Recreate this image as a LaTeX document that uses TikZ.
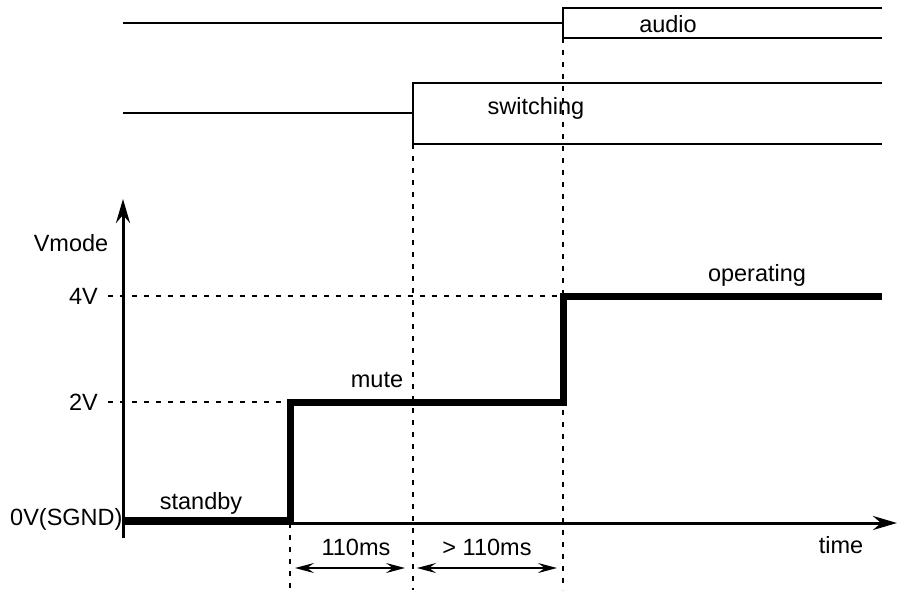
\documentclass[tikz,border=0pt]{standalone}
\usepackage{fontspec}
\setmainfont{Liberation Sans}
\usetikzlibrary{arrows.meta}
\begin{document}
\begin{tikzpicture}[x=1pt,y=-1pt,
  lbl/.style={inner sep=0pt,font=\fontsize{23.5}{28}\selectfont},
  thin/.style={line width=1.6pt},
  guide/.style={line width=1.4pt,dash pattern=on 5pt off 7pt},
  axis/.style={line width=3pt,-{Stealth[length=24pt,width=14pt,inset=8pt]}},
  sig/.style={line width=7pt,line cap=butt,line join=miter},
  dim/.style={line width=1.7pt,{Stealth[length=19pt,width=10pt,inset=7pt]}-{Stealth[length=19pt,width=10pt,inset=7pt]}}]
\useasboundingbox (0,0) rectangle (898,590);
% key coordinates
\coordinate (o) at (123,523);
\coordinate (xe) at (897,523);
\coordinate (ys) at (123,538);
\coordinate (ye) at (123,199);
% top signals
\draw[thin] (123,23) -- (563,23);
\draw[thin] (882,8) -- (563,8) -- (563,38) -- (882,38);
\draw[thin] (123,113) -- (413,113);
\draw[thin] (882,83) -- (413,83) -- (413,144) -- (882,144);
\node[lbl] (audio) at (668,24) {audio};
\node[lbl] (sw) at (536,108) {switching};
% guides
\draw[guide] (290,523) -- (290,590);
\draw[guide] (413,144) -- (413,590);
\draw[guide] (563,38) -- (563,590);
\draw[guide] (108,296) -- (563,296);
\draw[guide] (108,402) -- (290,402);
% axes
\draw[axis] (ys) -- (ye);
\draw[axis] (o) -- (xe);
% levels
\node[lbl,anchor=east] (v4) at (98,296) {4V};
\node[lbl,anchor=east] (v2) at (98,402) {2V};
\node[lbl,anchor=west] (v0) at (10,519) {0V(SGND)};
\node[lbl] (vm) at (71,243) {Vmode};
% signal
\draw[sig] (123,520) -- (290,520) -- (290,402) -- (563,402) -- (563,296) -- (882,296);
\node[lbl] (stb) at (201,503) {standby};
\node[lbl] (mute) at (377,380) {mute};
\node[lbl] (op) at (757,275) {operating};
\node[lbl] (time) at (841,545) {time};
% dimension arrows
\coordinate (a1) at (295,568);
\coordinate (a2) at (405,568);
\coordinate (a3) at (417,568);
\coordinate (a4) at (557,568);
\draw[dim] (a1) -- (a2);
\draw[dim] (a3) -- (a4);
\node[lbl] (t1) at (356,547) {110ms};
\node[lbl] (t2) at (487,547) {> 110ms};
\end{tikzpicture}
\end{document}
